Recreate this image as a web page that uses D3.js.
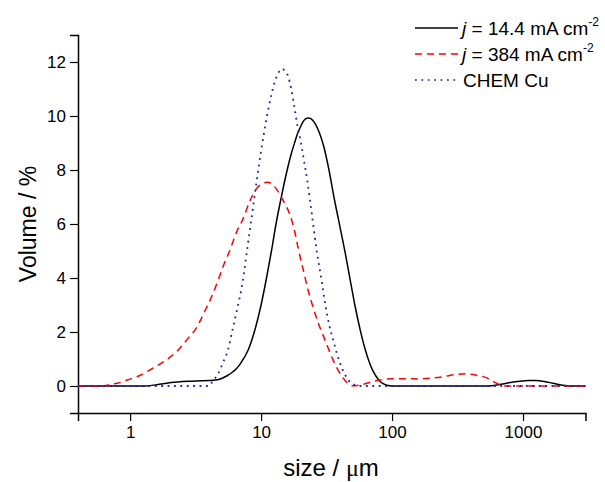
<!DOCTYPE html>
<html><head><meta charset="utf-8">
<script src="https://cdn.jsdelivr.net/npm/d3@7"></script>
<style>body{margin:0;background:#fff}svg{display:block}text{font-family:Arial,"Liberation Sans",sans-serif;fill:#000}</style>
</head><body><svg id="c" width="605" height="482"></svg>
<script>
// Series: j = 14.4 mA cm-2 (black solid)
const sizeA = [0.4,0.6,0.8,1.0,1.3,1.6,2.0,2.5,3.0,3.5,4.0,4.5,5.0,5.5,6.0,6.5,7.0,8.0,9.0,10,11,12,13,14,15,16,17,18,19,20,21,22,23,24,26,28,30,33,36,40,44,48,52,57,62,68,75,82,90,100,200,400,500,600,700,800,950,1100,1250,1450,1700,2000,2300,3000];
const volA  = [0,0,0,0,0,0.05,0.12,0.17,0.18,0.19,0.2,0.22,0.28,0.38,0.5,0.65,0.85,1.35,2.1,3.0,4.0,5.0,6.0,6.8,7.5,8.1,8.6,9.0,9.35,9.6,9.8,9.9,9.93,9.9,9.7,9.35,8.9,8.0,7.0,5.9,4.9,3.9,3.0,2.1,1.4,0.8,0.38,0.15,0.04,0,0,0,0,0.02,0.07,0.13,0.18,0.2,0.2,0.17,0.1,0.03,0,0];
// Series: j = 384 mA cm-2 (red dashed)
const sizeB = [0.4,0.5,0.6,0.7,0.8,0.95,1.2,1.42,1.7,2.0,2.4,2.7,3.25,3.7,4.1,4.6,5.2,5.8,6.5,7.3,8.2,9.2,10.2,11.2,12.3,13.5,15,16.6,18,19.3,21,23,25,27.5,30.8,35.5,41.5,46,50,57,64,72,80,100,130,160,200,250,300,370,440,530,600,670,720,1000,3000];
const volB  = [0,0,0,0.05,0.1,0.22,0.4,0.6,0.82,1.05,1.4,1.7,2.2,2.75,3.2,3.8,4.5,5.05,5.7,6.2,6.85,7.3,7.5,7.55,7.45,7.2,6.8,6.35,5.75,5.05,4.3,3.5,2.9,2.3,1.7,0.96,0.35,0.1,0.01,0.04,0.1,0.17,0.22,0.27,0.27,0.26,0.29,0.35,0.42,0.45,0.4,0.3,0.15,0.04,0,0,0];
// Series: CHEM Cu (blue dotted)
const sizeC = [0.4,1.0,2.0,3.0,4.0,4.3,4.7,5.1,5.6,6.0,6.6,7.2,7.8,8.5,9.2,10,11,12,13,14,14.5,15,16,17,18,19,20,21,22.7,24.5,26.6,29,31,33,35.5,40,44,49,57,100,1000,3000];
const volC  = [0,0,0,0,0,0.2,0.45,0.85,1.35,2.0,2.9,3.8,5.0,6.3,7.5,8.7,9.9,10.8,11.4,11.7,11.75,11.7,11.5,11.0,10.3,9.6,9.1,8.5,7.5,6.3,5.0,3.9,3.0,2.3,1.7,0.85,0.4,0.1,0,0,0,0];

const xMajor = [1,10,100,1000];
const xMinor = [0.4,0.5,0.6,0.7,0.8,0.9,2,3,4,5,6,7,8,9,20,30,40,50,60,70,80,90,200,300,400,500,600,700,800,900,2000,3000];
const yMajor = [0,2,4,6,8,10,12];
const yMinor = [-1,1,3,5,7,9,11,13];

const svg = d3.select("#c");
const x = d3.scaleLog().domain([0.4,3000]).range([78,585.5]);
const y = d3.scaleLinear().domain([-1,13]).range([413,35]);

// axes
const gx = svg.append("g").attr("transform","translate(0,413)");
gx.call(d3.axisBottom(x).tickValues(xMinor).tickSize(4).tickFormat(""));
gx.call(d3.axisBottom(x).tickValues(xMajor).tickSize(8).tickPadding(5).tickFormat(d3.format("")));
const gy = svg.append("g").attr("transform","translate(78,0)");
gy.call(d3.axisLeft(y).tickValues(yMinor).tickSize(4).tickFormat(""));
gy.call(d3.axisLeft(y).tickValues(yMajor).tickSize(8).tickPadding(4).tickFormat(d3.format("")));
svg.selectAll(".domain").attr("stroke","#000").attr("stroke-width",1.5);
svg.selectAll(".tick line").attr("stroke","#000").attr("stroke-width",1.2);
svg.selectAll(".tick text").style("font-size","17px").style("font-family","Arial, 'Liberation Sans', sans-serif").attr("fill","#000");

// lines
const line = d3.line().x(d=>x(d[0])).y(d=>y(d[1])).curve(d3.curveMonotoneX);
const series = [
  {s:sizeA,v:volA,color:"#000000",dash:null,w:1.5},
  {s:sizeB,v:volB,color:"#ff0000",dash:"7,5",w:1.5},
  {s:sizeC,v:volC,color:"#2020a8",dash:"1.8,4.6",w:1.8}
];
series.forEach(sr=>{
  svg.append("path").datum(sr.s.map((d,i)=>[d,sr.v[i]]))
    .attr("d",line).attr("fill","none").attr("stroke",sr.color)
    .attr("stroke-width",sr.w).attr("stroke-dasharray",sr.dash);
});

// axis titles
svg.append("text").attr("transform","translate(36,224) rotate(-90)")
  .attr("text-anchor","middle").style("font-size","23px").text("Volume / %");
const xt = svg.append("text").attr("x",331).attr("y",476).attr("text-anchor","middle").style("font-size","24px");
xt.append("tspan").text("size / ");
xt.append("tspan").style("font-family","'Liberation Serif','Times New Roman',serif").text("μ");
xt.append("tspan").text("m");

// legend
const leg = [
  {label:" = 14.4 mA cm", j:true, sup:"-2", color:"#000", dash:null, yy:28},
  {label:" = 384 mA cm", j:true, sup:"-2", color:"#ff0000", dash:"7,5", yy:54},
  {label:"CHEM Cu", j:false, sup:null, color:"#2020a8", dash:"1.8,4.6", yy:80}
];
leg.forEach(l=>{
  svg.append("line").attr("x1",415).attr("x2",458).attr("y1",l.yy).attr("y2",l.yy)
    .attr("stroke",l.color).attr("stroke-width",1.5).attr("stroke-dasharray",l.dash);
  const t = svg.append("text").attr("x",l.j?462:463).attr("y",l.yy+7).style("font-size","19px");
  if(l.j) t.append("tspan").style("font-style","italic").text("j");
  t.append("tspan").text(l.label);
  if(l.sup) t.append("tspan").attr("dy",-9).style("font-size","12px").text(l.sup);
});
</script></body></html>
